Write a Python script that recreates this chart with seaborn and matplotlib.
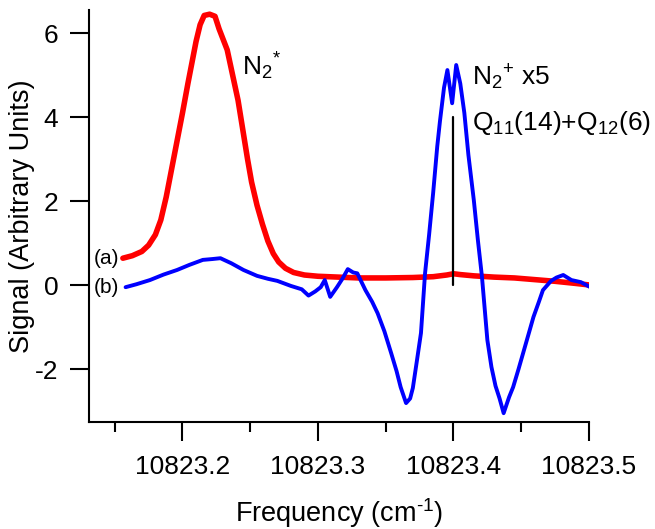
import matplotlib
matplotlib.use("Agg")
import matplotlib.pyplot as plt
import seaborn as sns
import pandas as pd

# ---- data ----
red_x = [10823.156, 10823.163, 10823.170, 10823.175, 10823.180, 10823.184, 10823.188, 10823.191,
         10823.194, 10823.197, 10823.200, 10823.204, 10823.207, 10823.210, 10823.213, 10823.216,
         10823.220, 10823.224, 10823.227, 10823.230, 10823.233, 10823.237, 10823.241, 10823.245,
         10823.248, 10823.251, 10823.255, 10823.259, 10823.263, 10823.267, 10823.271, 10823.276,
         10823.282, 10823.290, 10823.300, 10823.315, 10823.330, 10823.350, 10823.370, 10823.385,
         10823.395, 10823.400, 10823.405, 10823.415, 10823.430, 10823.445, 10823.460, 10823.475,
         10823.490, 10823.501]
red_y = [0.64, 0.70, 0.80, 0.95, 1.20, 1.55, 2.10, 2.60,
         3.10, 3.60, 4.10, 4.80, 5.30, 5.80, 6.20, 6.42,
         6.45, 6.40, 6.10, 5.85, 5.60, 5.00, 4.40, 3.60,
         3.00, 2.45, 1.90, 1.45, 1.05, 0.75, 0.55, 0.40,
         0.30, 0.24, 0.21, 0.19, 0.17, 0.17, 0.18, 0.20,
         0.24, 0.27, 0.25, 0.22, 0.19, 0.17, 0.13, 0.09,
         0.04, 0.00]

blue_x = [10823.158, 10823.166, 10823.176, 10823.186, 10823.196, 10823.205, 10823.215, 10823.222,
          10823.228, 10823.236, 10823.245, 10823.255, 10823.263, 10823.270, 10823.280, 10823.288,
          10823.293, 10823.298, 10823.302, 10823.305, 10823.309, 10823.314, 10823.318, 10823.322,
          10823.326, 10823.329, 10823.335, 10823.340, 10823.344, 10823.349, 10823.354, 10823.358,
          10823.361, 10823.365, 10823.368, 10823.370, 10823.373, 10823.376, 10823.379, 10823.382,
          10823.385, 10823.388, 10823.390, 10823.393, 10823.3955, 10823.399, 10823.402, 10823.405,
          10823.408, 10823.411, 10823.415, 10823.418, 10823.421, 10823.425, 10823.428, 10823.431,
          10823.434, 10823.437, 10823.441, 10823.444, 10823.448, 10823.452, 10823.456, 10823.459,
          10823.463, 10823.466, 10823.472, 10823.476, 10823.481, 10823.487, 10823.494, 10823.501]
blue_y = [-0.05, 0.02, 0.12, 0.25, 0.36, 0.48, 0.60, 0.62,
          0.64, 0.52, 0.36, 0.22, 0.15, 0.10, -0.02, -0.10,
          -0.25, -0.15, -0.05, 0.12, -0.28, -0.05, 0.15, 0.38,
          0.30, 0.28, -0.12, -0.40, -0.67, -1.10, -1.62, -2.05,
          -2.43, -2.81, -2.70, -2.45, -1.80, -1.14, 0.28, 1.20,
          2.20, 3.30, 3.90, 4.70, 5.12, 4.33, 5.24, 4.80,
          4.10, 3.10, 2.02, 1.07, 0.20, -1.31, -1.95, -2.40,
          -2.70, -3.05, -2.67, -2.43, -2.00, -1.55, -1.10, -0.76,
          -0.40, -0.12, 0.10, 0.18, 0.24, 0.12, 0.07, -0.05]

x_ticks = [10823.2, 10823.3, 10823.4, 10823.5]
x_ticklabels = ["10823.2", "10823.3", "10823.4", "10823.5"]
x_minor = [10823.15, 10823.25, 10823.35, 10823.45]
y_ticks = [-2, 0, 2, 4, 6]
y_ticklabels = ["-2", "0", "2", "4", "6"]

marker_x = [10823.4, 10823.4]
marker_y = [0.0, 4.0]

# ---- style ----
sns.set_style("ticks")
plt.rcParams['font.family'] = ['Liberation Sans', 'DejaVu Sans']
plt.rcParams['mathtext.fontset'] = 'custom'
plt.rcParams['mathtext.rm'] = 'Liberation Sans'
plt.rcParams['mathtext.it'] = 'Liberation Sans'
plt.rcParams['mathtext.bf'] = 'Liberation Sans'
plt.rcParams['mathtext.default'] = 'rm'
plt.rcParams['text.color'] = 'black'
plt.rcParams['axes.labelcolor'] = 'black'
plt.rcParams['xtick.color'] = 'black'
plt.rcParams['ytick.color'] = 'black'

fig = plt.figure(figsize=(6.55, 5.29), dpi=100)
ax = fig.add_axes([89/655, 107/529, 500/655, 412/529])

df_red = pd.DataFrame({"x": red_x, "y": red_y})
df_blue = pd.DataFrame({"x": blue_x, "y": blue_y})
df_mark = pd.DataFrame({"x": marker_x, "y": marker_y})

sns.lineplot(data=df_red, x="x", y="y", ax=ax, color="#ff0000", lw=4.0, sort=False, estimator=None)
sns.lineplot(data=df_blue, x="x", y="y", ax=ax, color="#0000ff", lw=2.8, sort=False, estimator=None)
sns.lineplot(data=df_mark, x="x", y="y", ax=ax, color="black", lw=1.6, sort=False, estimator=None)

ax.set_xlim(10823.131, 10823.5)
ax.set_ylim(-3.26, 6.55)

ax.set_xticks(x_ticks)
ax.set_xticklabels(x_ticklabels)
ax.set_xticks(x_minor, minor=True)
ax.set_yticks(y_ticks)
ax.set_yticklabels(y_ticklabels)

ax.tick_params(axis='both', which='major', direction='out', length=14, width=1.5,
               labelsize=19, color='black', labelcolor='black')
ax.tick_params(axis='x', which='major', pad=10)
ax.tick_params(axis='y', which='major', pad=8)
ax.tick_params(axis='x', which='minor', direction='out', length=7, width=1.5, color='black')

sns.despine(ax=ax)
for s in ['left', 'bottom']:
    ax.spines[s].set_linewidth(1.5)
    ax.spines[s].set_color('black')

ax.set_xlabel(r"Frequency (cm$^{\text{-}1}$)", fontsize=19.5, labelpad=12, color='black')
ax.set_ylabel("Signal (Arbitrary Units)", fontsize=19.5, labelpad=0, color='black')

ax.text(10823.1535, 0.64, "(a)", fontsize=15, ha='right', va='center', color='black')
ax.text(10823.1535, -0.05, "(b)", fontsize=15, ha='right', va='center', color='black')
ax.text(10823.244, 5.0, "N$_2$$^{*}$", fontsize=19, ha='left', va='baseline', color='black')
ax.text(10823.414, 4.76, "N$_2$$^{+}$ x5", fontsize=19, ha='left', va='baseline', color='black')
ax.text(10823.414, 3.69, "Q$_{11}$(14)+Q$_{12}$(6)", fontsize=19, ha='left', va='baseline', color='black')

fig.savefig("out.png", dpi=100)
